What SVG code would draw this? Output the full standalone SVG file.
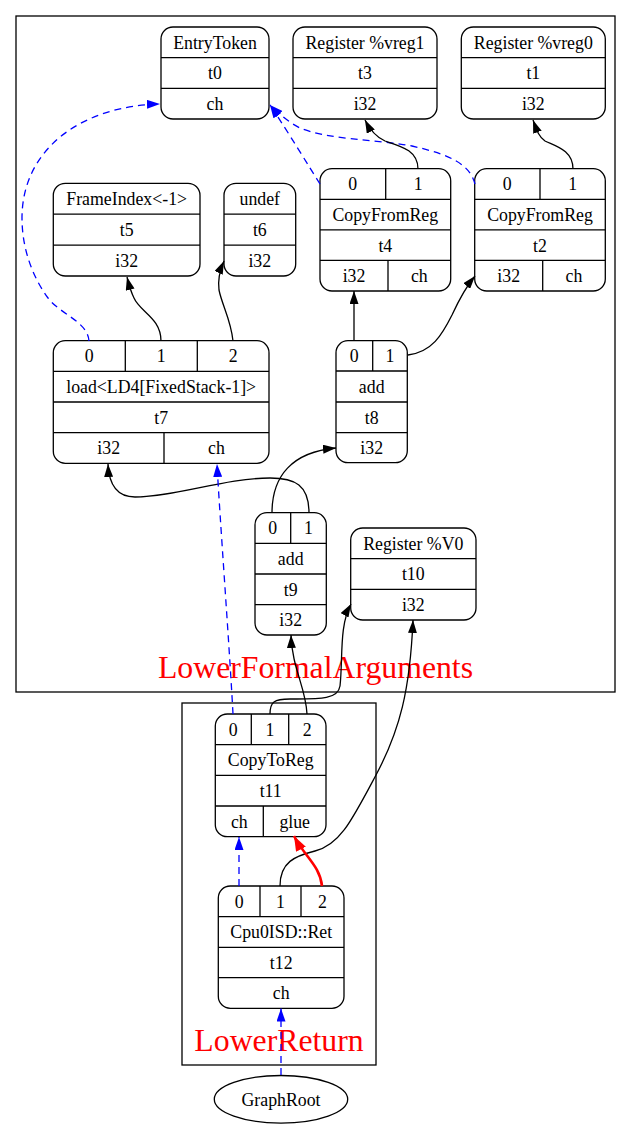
<svg xmlns="http://www.w3.org/2000/svg" width="632" height="1129" viewBox="0 0 632 1129">
<style>
.cl{fill:none;stroke:#000;stroke-width:1.3}
.clt{font-family:"Liberation Serif",serif;font-size:31.75px;fill:#ff0000;text-anchor:middle}
.n rect,.n path,.n ellipse{fill:none;stroke:#000;stroke-width:1.3}
.n text{font-family:"Liberation Serif",serif;font-size:17.8px;fill:#000;text-anchor:middle}
.e{fill:none;stroke:#000;stroke-width:1.3}
.b{fill:none;stroke:#0000ff;stroke-width:1.3;stroke-dasharray:7,5}
.r{fill:none;stroke:#ff0000;stroke-width:2.6}
</style>
<defs>
<marker id="ak" viewBox="0 0 13 9" refX="13" refY="4.5" markerWidth="13" markerHeight="9" markerUnits="userSpaceOnUse" orient="auto"><path d="M0,0L13,4.5L0,9Z" fill="#000"/></marker>
<marker id="ab" viewBox="0 0 13 9" refX="13" refY="4.5" markerWidth="13" markerHeight="9" markerUnits="userSpaceOnUse" orient="auto"><path d="M0,0L13,4.5L0,9Z" fill="#0000ff"/></marker>
<marker id="ar" viewBox="0 0 15 11" refX="15" refY="5.5" markerWidth="15" markerHeight="11" markerUnits="userSpaceOnUse" orient="auto"><path d="M0,0L15,5.5L0,11Z" fill="#ff0000"/></marker>
</defs>
<g id="clusters">
<g id="cluster_LowerFormalArguments"><rect class="cl" x="16" y="16" width="599" height="676"/><text class="clt" x="315.5" y="678">LowerFormalArguments</text></g>
<g id="cluster_LowerReturn"><rect class="cl" x="182" y="703" width="194" height="362"/><text class="clt" x="279" y="1051">LowerReturn</text></g>
</g>
<g id="t0" class="n"><rect x="161" y="27" width="108" height="92" rx="12"/><path d="M161,57.7H269M161,88.3H269"/><text x="215" y="48.6">EntryToken</text><text x="215" y="79.3">t0</text><text x="215" y="110">ch</text></g>
<g id="t3" class="n"><rect x="293" y="27" width="144" height="92" rx="12"/><path d="M293,57.7H437M293,88.3H437"/><text x="365" y="48.6">Register %vreg1</text><text x="365" y="79.3">t3</text><text x="365" y="110">i32</text></g>
<g id="t1" class="n"><rect x="461.3" y="27" width="144" height="92" rx="12"/><path d="M461.3,57.7H605.3M461.3,88.3H605.3"/><text x="533.3" y="48.6">Register %vreg0</text><text x="533.3" y="79.3">t1</text><text x="533.3" y="110">i32</text></g>
<g id="t5" class="n"><rect x="53.3" y="183.3" width="146.7" height="92.7" rx="12"/><path d="M53.3,214.2H200M53.3,245.1H200"/><text x="126.7" y="205.1">FrameIndex&lt;-1&gt;</text><text x="126.7" y="236">t5</text><text x="126.7" y="266.9">i32</text></g>
<g id="t6" class="n"><rect x="224" y="183.3" width="71.7" height="92.7" rx="12"/><path d="M224,214.2H295.7M224,245.1H295.7"/><text x="259.8" y="205.1">undef</text><text x="259.8" y="236">t6</text><text x="259.8" y="266.9">i32</text></g>
<g id="t4" class="n"><rect x="320" y="168.7" width="130.7" height="122.3" rx="12"/><path d="M320,199.3H450.7M320,229.9H450.7M320,260.4H450.7M385.7,168.7V199.3M388,260.4V291"/><text x="352.8" y="190.3">0</text><text x="418.2" y="190.3">1</text><text x="385.3" y="221">CopyFromReg</text><text x="385.3" y="251.5">t4</text><text x="354" y="282">i32</text><text x="419.3" y="282">ch</text></g>
<g id="t2" class="n"><rect x="474.7" y="168.7" width="130.6" height="122.3" rx="12"/><path d="M474.7,199.3H605.3M474.7,229.9H605.3M474.7,260.4H605.3M540,168.7V199.3M542.7,260.4V291"/><text x="507.3" y="190.3">0</text><text x="572.7" y="190.3">1</text><text x="540" y="221">CopyFromReg</text><text x="540" y="251.5">t2</text><text x="508.7" y="282">i32</text><text x="574" y="282">ch</text></g>
<g id="t7" class="n"><rect x="53.3" y="340.7" width="215.7" height="122.6" rx="12"/><path d="M53.3,371.3H269M53.3,402H269M53.3,432.6H269M125.3,340.7V371.3M197.3,340.7V371.3M164,432.6V463.3"/><text x="89.3" y="362.3">0</text><text x="161.3" y="362.3">1</text><text x="233.2" y="362.3">2</text><text x="161.2" y="393">load&lt;LD4[FixedStack-1]&gt;</text><text x="161.2" y="423.6">t7</text><text x="108.7" y="454.3">i32</text><text x="216.5" y="454.3">ch</text></g>
<g id="t8" class="n"><rect x="336" y="340.7" width="71.3" height="122" rx="12"/><path d="M336,371H407.3M336,402H407.3M336,432.7H407.3M372.7,340.7V371"/><text x="354.3" y="362.3">0</text><text x="390" y="362.3">1</text><text x="371.7" y="392.8">add</text><text x="371.7" y="423.5">t8</text><text x="371.7" y="454">i32</text></g>
<g id="t9" class="n"><rect x="255" y="512.7" width="71.3" height="122.3" rx="12"/><path d="M255,543.3H326.3M255,574H326.3M255,604.6H326.3M290.7,512.7V543.3"/><text x="272.8" y="534.3">0</text><text x="308.5" y="534.3">1</text><text x="290.7" y="565">add</text><text x="290.7" y="595.6">t9</text><text x="290.7" y="626.2">i32</text></g>
<g id="t10" class="n"><rect x="350.7" y="528" width="125.3" height="92" rx="12"/><path d="M350.7,558.7H476M350.7,589.3H476"/><text x="413.3" y="549.6">Register %V0</text><text x="413.3" y="580.3">t10</text><text x="413.3" y="611">i32</text></g>
<g id="t11" class="n"><rect x="215.3" y="714" width="110.7" height="122.7" rx="12"/><path d="M215.3,744.7H326M215.3,775.3H326M215.3,806H326M251.3,714V744.7M288.7,714V744.7M263.3,806V836.7"/><text x="233.3" y="735.6">0</text><text x="270" y="735.6">1</text><text x="307.3" y="735.6">2</text><text x="270.7" y="766.3">CopyToReg</text><text x="270.7" y="797">t11</text><text x="239.3" y="827.6">ch</text><text x="294.7" y="827.6">glue</text></g>
<g id="t12" class="n"><rect x="218.3" y="886" width="125.7" height="122.3" rx="12"/><path d="M218.3,916.7H344M218.3,947.3H344M218.3,977.7H344M260,886V916.7M301,886V916.7"/><text x="239.2" y="907.6">0</text><text x="280.5" y="907.6">1</text><text x="322.5" y="907.6">2</text><text x="281.2" y="938.3">Cpu0ISD::Ret</text><text x="281.2" y="968.8">t12</text><text x="281.2" y="999.3">ch</text></g>
<g id="GraphRoot" class="n"><ellipse cx="281" cy="1099.3" rx="66.7" ry="23.8"/><text x="281" y="1105.5">GraphRoot</text></g>
<g id="edges">
<path class="b" marker-end="url(#ab)" d="M89,341C88,322 60,314 48,298C32,276 22,248 22,218C22,150 80,106 160,104"/>
<path class="b" marker-end="url(#ab)" d="M320,184C308,165 290,135 270,105"/>
<path class="b" marker-end="url(#ab)" d="M475,184C470,165 452,155 412,146C372,139 330,140 300,128C290,123 280,115 270,105"/>
<path class="e" marker-end="url(#ak)" d="M418,169C418,150 400,146 385,141C376,137 370,130 365,120"/>
<path class="e" marker-end="url(#ak)" d="M573,169C573,150 555,146 545,141C539,137 537,131 533,120"/>
<path class="e" marker-end="url(#ak)" d="M161,341C161,318 140,312 134,298C131,292 129,285 127,277"/>
<path class="e" marker-end="url(#ak)" d="M233,341C231,320 222,305 219,290C218,282 219,272 224,261"/>
<path class="e" marker-end="url(#ak)" d="M354,341L354,291"/>
<path class="e" marker-end="url(#ak)" d="M408,355C432,352 442,335 452,315C458,302 465,288 475,276"/>
<path class="e" marker-end="url(#ak)" d="M272,513C272,476 292,452 336,448"/>
<path class="e" marker-end="url(#ak)" d="M309,513C309,485 295,478 270,478C225,478 175,497 135,497C118,497 109,485 108,464"/>
<path class="b" marker-end="url(#ab)" d="M233,714C229,640 220,520 217,464"/>
<path class="e" marker-end="url(#ak)" d="M270,714C270,702 274,699 290,699C318,699 338,700 340,686C343,660 339,625 351,604"/>
<path class="e" marker-end="url(#ak)" d="M307,714C306,688 292,668 291,635"/>
<path class="e" marker-end="url(#ak)" d="M280,886C280,862 295,856 315,851C340,845 352,820 376,775C400,730 410,690 413,620"/>
<path class="r" marker-end="url(#ar)" d="M322,886C320,866 305,857 294,836"/>
<path class="b" marker-end="url(#ab)" d="M239,886L239,837"/>
<path class="b" marker-end="url(#ab)" d="M281,1075L281,1008.5"/>
</g>
</svg>
